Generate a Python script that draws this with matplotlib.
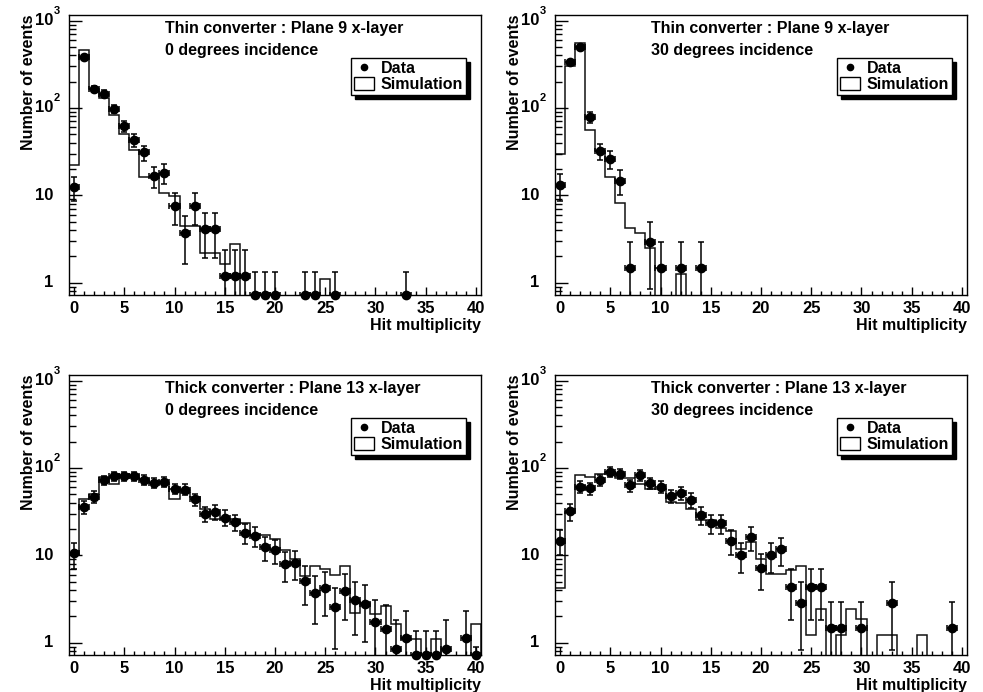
import numpy as np
import matplotlib
matplotlib.use('Agg')
import matplotlib.pyplot as plt
from matplotlib.lines import Line2D
from matplotlib.patches import Patch
from matplotlib.transforms import blended_transform_factory, ScaledTranslation
from matplotlib.ticker import FixedLocator, LogLocator, NullFormatter, MultipleLocator

plt.rcParams['font.family'] = ['Liberation Sans', 'DejaVu Sans']
plt.rcParams['font.weight'] = 'bold'

# hit multiplicity bins 0..40
hits = np.arange(41)

titles = [
  ('Thin converter : Plane 9 x-layer', '0 degrees incidence'),
  ('Thin converter : Plane 9 x-layer', '30 degrees incidence'),
  ('Thick converter : Plane 13 x-layer', '0 degrees incidence'),
  ('Thick converter : Plane 13 x-layer', '30 degrees incidence'),
]

# y tick labels: (value, base, exponent)
ytick_values = [1, 10, 100, 1000]
ytick_bases = ['1', '10', '10', '10']
ytick_exps = ['', '', '2', '3']

# weight of a single event in each panel (used for poisson errors)
event_weight = [1.18, 1.46, 1.14, 1.46]

# data points (0 = empty bin, values below 0.72 sit under the axis)
data_thin_0 = [12.5, 387, 166, 146, 98, 62, 43, 31, 16.4, 18, 7.5, 3.7, 7.5, 4.1, 4.1,
               1.18, 1.18, 1.18, 0.53, 0.53, 0.53, 0, 0, 0.53, 0.53, 0, 0.53,
               0, 0, 0, 0, 0, 0, 0.53, 0, 0, 0, 0, 0, 0, 0]
data_thin_30 = [13, 333, 495, 78, 32, 26, 14.6, 1.46, 0, 2.9, 1.46, 0, 1.46, 0, 1.46,
                0, 0, 0, 0, 0, 0, 0, 0, 0, 0, 0, 0, 0, 0, 0, 0, 0, 0, 0, 0, 0, 0, 0, 0, 0, 0]
data_thick_0 = [10.5, 35.8, 47, 72.4, 80.5, 80, 80.5, 73, 68, 69.9, 58, 56.6, 43.5, 30,
                31.6, 27, 24, 18, 16.7, 12.4, 11.5, 7.9, 8.2, 5.1, 3.67, 4.2, 2.56, 3.91,
                3.11, 2.8, 1.71, 1.42, 0.84, 1.14, 0.55, 0.55, 0.55, 0.84, 0, 1.14, 0.3]
data_thick_30 = [14.6, 31.7, 60.7, 58.6, 72.4, 91, 86.3, 63, 82.6, 67.5, 60.7, 47.5, 52.2,
                 43.1, 29, 23.3, 23.3, 14.6, 10.1, 16, 7.2, 10.1, 11.7, 4.35, 2.87, 4.35,
                 4.35, 1.46, 1.46, 0, 1.46, 0, 0, 2.87, 0, 0, 0, 0, 0, 1.46, 0]

# simulation histograms
sim_thin_0 = [22.3, 462, 166, 131, 82, 50, 33, 16, 16, 10.7, 9.8, 4.45, 4.45, 2.17, 2.17,
              1.65, 2.8, 0, 0, 0, 0, 0, 0, 0, 0, 1.11, 0, 0, 0, 0, 0, 0, 0, 0, 0, 0, 0, 0,
              0, 0, 0]
sim_thin_30 = [29.5, 303, 550, 56, 32.5, 16, 8.1, 4.2, 3.7, 2.47, 0, 0, 1.25, 0, 0, 0, 0,
               0, 0, 0, 0, 0, 0, 0, 0, 0, 0, 0, 0, 0, 0, 0, 0, 0, 0, 0, 0, 0, 0, 0, 0]
sim_thick_0 = [10, 44, 50, 79, 65, 83, 83, 74, 68, 68, 43.5, 52, 46.7, 33.7, 26.3, 26.3,
               26, 23.7, 17, 17, 15.5, 11.5, 9, 5.8, 7.55, 7.0, 5.96, 7.6, 2.2, 2.87, 2.15,
               2.63, 1.63, 1.09, 1.09, 0, 1.09, 0, 0, 0, 1.65]
sim_thick_30 = [4.27, 31.4, 82.6, 79.7, 85, 90, 77.6, 77.6, 66, 57, 57, 41, 39.5, 33.7,
                25.2, 25, 20.4, 19, 11.7, 14.2, 9, 6.17, 6.17, 6.75, 7.57, 1.22, 2.41, 0,
                1.22, 2.41, 1.85, 0, 1.22, 1.22, 0, 0, 1.22, 0, 0, 0, 0]

datasets = [data_thin_0, data_thin_30, data_thick_0, data_thick_30]
simulations = [sim_thin_0, sim_thin_30, sim_thick_0, sim_thick_30]

W, H = 983, 692
YLO, YHI = 0.72, 1160

# panel boxes in pixels: left, top, right, bottom
boxes = [
  (69, 15, 481, 295),
  (555, 15, 967, 295),
  (69, 375, 481, 655),
  (555, 375, 967, 655),
]

fig = plt.figure(figsize=(W / 100, H / 100), dpi=100)

for i in range(4):
  l, t, r, b = boxes[i]
  ax = fig.add_axes([l / W, 1 - b / H, (r - l) / W, (b - t) / H])
  ax.set_yscale('log')
  ax.set_xlim(-0.5, 40.5)
  ax.set_ylim(YLO, YHI)

  # simulation histogram
  sim = np.array(simulations[i], dtype=float)
  edges = np.arange(-0.5, 41.5, 1)
  ax.stairs(np.where(sim > 0, sim, 1e-3), edges, baseline=1e-3,
            color='#111111', linewidth=1.1)

  # data points with poisson errors
  vals = np.array(datasets[i], dtype=float)
  has = vals > 0
  x = hits[has]
  v = vals[has]
  err = np.sqrt(v * event_weight[i])
  yplot = np.maximum(v, YLO)
  upper = v + err - yplot
  lower = yplot - np.maximum(v - err, 1e-3)
  ax.errorbar(x, yplot, yerr=[lower, upper], xerr=0.5, fmt='none',
              ecolor='black', elinewidth=1.1, capsize=2, capthick=1.1)
  ax.plot(x, yplot, 'o', color='black', markersize=6, clip_on=False, zorder=5)

  # axes styling
  ax.yaxis.set_major_locator(FixedLocator(ytick_values))
  ax.yaxis.set_major_formatter(NullFormatter())
  ax.yaxis.set_minor_locator(LogLocator(base=10, subs=np.arange(2, 10)))
  ax.yaxis.set_minor_formatter(NullFormatter())
  ax.xaxis.set_major_locator(MultipleLocator(5))
  ax.xaxis.set_minor_locator(MultipleLocator(1))
  ax.tick_params(axis='y', which='major', direction='in', length=9, width=1, right=False)
  ax.tick_params(axis='y', which='minor', direction='in', length=5, width=1, right=False)
  ax.tick_params(axis='x', which='major', direction='in', length=6, width=1,
                 labelsize=12, pad=4, top=False)
  ax.tick_params(axis='x', which='minor', direction='in', length=3, width=1, top=False)
  for s in ax.spines.values():
    s.set_linewidth(1)

  # ROOT style y labels: base right aligned, exponent sticking out
  trans = blended_transform_factory(ax.transAxes, ax.transData)
  for val, base, exp in zip(ytick_values, ytick_bases, ytick_exps):
    ax.text(-0.039, val, base, transform=trans, ha='right', va='center',
            fontsize=12, fontweight='bold')
    if exp:
      shift = ScaledTranslation(0.5 / 72, 7 / 72, fig.dpi_scale_trans)
      ax.text(-0.039, val, exp, transform=trans + shift, ha='left', va='center',
              fontsize=8, fontweight='bold')

  ax.set_ylabel('Number of events', fontsize=11.5, fontweight='bold', loc='top')
  ax.yaxis.set_label_coords(-0.081, 1.0)
  ax.set_xlabel('Hit multiplicity', fontsize=11.5, fontweight='bold', loc='right')
  ax.xaxis.set_label_coords(1.0, -0.082)

  line1, line2 = titles[i]
  ax.text(0.232, 0.952, line1, transform=ax.transAxes, fontsize=11.5,
          fontweight='bold', va='center', ha='left')
  ax.text(0.232, 0.873, line2, transform=ax.transAxes, fontsize=11.5,
          fontweight='bold', va='center', ha='left')

  handles = [
    Line2D([], [], marker='o', color='black', linestyle='none', markersize=4.5),
    Patch(facecolor='white', edgecolor='black', linewidth=1),
  ]
  leg = ax.legend(handles, ['Data', 'Simulation'], loc='upper right',
                  bbox_to_anchor=(0.964, 0.846), fontsize=11.5, frameon=True,
                  fancybox=False, framealpha=1, edgecolor='black',
                  borderpad=0.2, labelspacing=0.05, handlelength=1.25,
                  handleheight=0.8, handletextpad=0.4, borderaxespad=0,
                  shadow={'ox': 3, 'oy': -3, 'color': 'black', 'alpha': 1})
  leg.get_frame().set_linewidth(1)
  for txt in leg.get_texts():
    txt.set_fontweight('bold')

fig.savefig('out.png', dpi=100)
